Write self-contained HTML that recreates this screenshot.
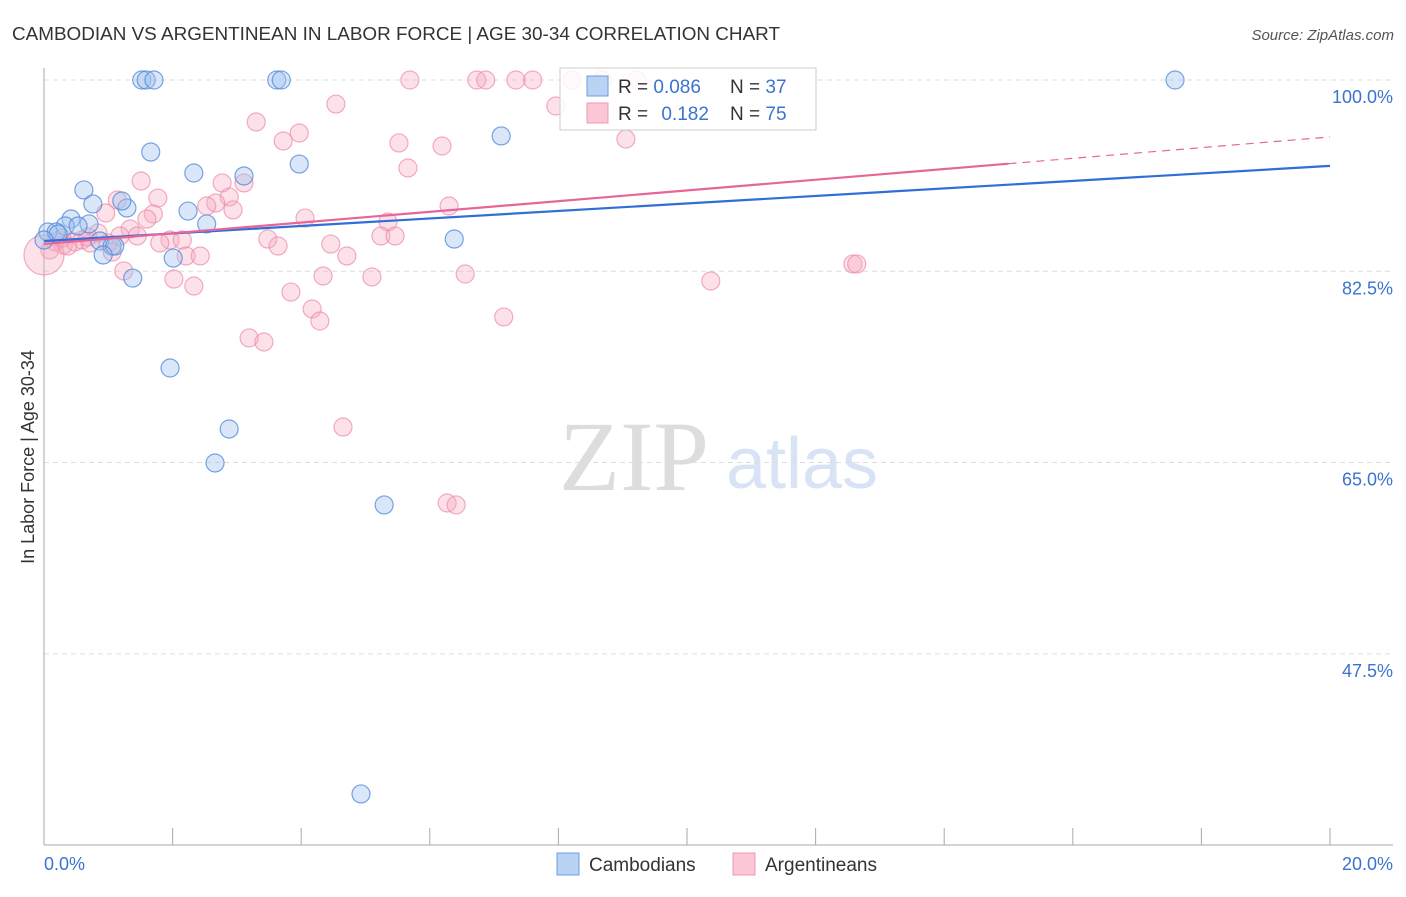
<!DOCTYPE html>
<html><head><meta charset="utf-8"><style>
body{margin:0;background:#fff;font-family:"Liberation Sans",sans-serif;}
svg text{font-family:"Liberation Sans",sans-serif;}
</style></head><body>
<svg id="chart" width="1406" height="892" viewBox="0 0 1406 892" xmlns="http://www.w3.org/2000/svg">
<text x="12" y="40" font-size="18" fill="#333" textLength="768" lengthAdjust="spacingAndGlyphs">CAMBODIAN VS ARGENTINEAN IN LABOR FORCE | AGE 30-34 CORRELATION CHART</text>
<text x="1394" y="40" font-size="15" fill="#555" text-anchor="end" font-style="italic">Source: ZipAtlas.com</text>
<g>
<text x="634" y="490" font-size="100" fill="#ddd" text-anchor="middle" style="font-family:'Liberation Serif',serif">ZIP</text>
<text x="802" y="488" font-size="72" fill="#d8e4f5" text-anchor="middle">atlas</text>
</g>
<g id="grid"></g>
<g id="axes"></g>
<g id="points"></g>
<g id="trends"></g>
<text transform="translate(34,457) rotate(-90)" font-size="18" fill="#333" text-anchor="middle">In Labor Force | Age 30-34</text>
<g>
<rect x="560" y="68" width="256" height="62" fill="#fff" fill-opacity="0.85" stroke="#ccc"/>
<rect x="587" y="76" width="21" height="20" fill="#b9d3f5" stroke="#6a9be0"/>
<rect x="587" y="103" width="21" height="20" fill="#fbc6d5" stroke="#ee98b2"/>
<text x="618" y="93" font-size="19" fill="#333">R = <tspan fill="#3a73d0">0.086</tspan></text>
<text x="730" y="93" font-size="19" fill="#333">N = <tspan fill="#3a73d0">37</tspan></text>
<text x="618" y="120" font-size="19" fill="#333">R = <tspan fill="#3a73d0" dx="8">0.182</tspan></text>
<text x="730" y="120" font-size="19" fill="#333">N = <tspan fill="#3a73d0">75</tspan></text>
</g>
<g>
<rect x="557" y="853" width="22" height="22" fill="#b9d3f5" stroke="#6a9be0"/>
<text x="589" y="871" font-size="19" fill="#333">Cambodians</text>
<rect x="733" y="853" width="22" height="22" fill="#fbc6d5" stroke="#ee98b2"/>
<text x="765" y="871" font-size="19" fill="#333">Argentineans</text>
</g>
</svg>
<script>
const yTicks=[100,82.5,65,47.5];
const yTickLabels=["100.0%","82.5%","65.0%","47.5%"];
const blueX=[1.52,1.59,1.71,3.62,3.69,17.59,7.11,1.66,3.97,2.33,3.11,0.62,0.76,1.29,2.24,0.42,0.33,0.70,2.53,0.06,0.19,0.22,0.87,1.06,1.10,6.38,0.92,2.01,1.38,1.96,2.88,2.66,5.29,4.93,0,1.21,0.53];
const blueY=[100,100,100,100,100,100,94.88,93.41,92.31,91.49,91.22,89.94,88.66,88.29,88.01,87.28,86.64,86.83,86.83,86.09,86.09,85.91,85.27,84.81,84.81,85.45,83.99,83.71,81.88,73.65,68.07,64.96,61.12,34.68,85.36,88.93,86.64];
const pinkX=[5.69,6.73,6.87,7.34,7.60,8.21,8.68,9.22,4.54,7.96,3.30,3.97,3.72,9.05,5.52,6.19,5.66,1.51,3.11,2.77,1.77,2.88,2.67,1.14,2.53,2.94,0.96,1.70,1.60,4.06,6.30,5.35,1.34,0.84,1.45,1.96,2.15,3.48,1.80,3.64,4.46,5.24,5.46,0.17,0.30,0.48,0.59,0.72,1.00,0.09,1.06,2.21,2.43,4.71,2.02,2.33,4.34,5.10,6.55,10.37,12.58,12.64,1.24,3.84,4.17,4.29,7.15,3.19,3.42,4.65,6.27,6.41,0,0.28,0.68,0.37,1.18];
const pinkY=[100,100,100,100,100,100,100,100,97.80,97.62,96.16,95.15,94.42,94.60,94.24,93.96,91.95,90.76,90.58,90.58,89.20,89.30,88.75,89.02,88.47,88.11,87.83,87.74,87.28,87.37,88.47,87.01,86.37,86.00,85.73,85.36,85.36,85.45,85.09,84.81,84.99,85.73,85.73,85.18,84.90,85.18,85.36,85.09,85.09,84.45,84.26,83.90,83.90,83.90,81.79,81.15,82.07,81.98,82.25,81.61,83.17,83.17,82.53,80.60,79.05,77.95,78.32,76.40,76.03,68.25,61.30,61.12,83.99,85.54,85.64,84.81,85.73];
const blueTrend=[85.27,92.14];
const pinkTrend=[85.0,94.79];
const pinkSolidEnd=15;

const NS="http://www.w3.org/2000/svg";
const X0=44,X1=1330,Y100=80,PXPER=10.93;
const sx=v=>X0+(v/20)*(X1-X0);
const sy=v=>Y100+(100-v)*PXPER;
function mk(tag,attrs,parent){const e=document.createElementNS(NS,tag);for(const k in attrs)e.setAttribute(k,attrs[k]);parent.appendChild(e);return e;}
const grid=document.getElementById('grid'),axes=document.getElementById('axes'),pts=document.getElementById('points'),tr=document.getElementById('trends');
yTicks.forEach((t,i)=>{
  const l=mk('line',{x1:X0,x2:1393,y1:sy(t),y2:sy(t),stroke:'#ddd','stroke-dasharray':'5,4'},grid);
  
  
  const tx=mk('text',{x:1393,y:sy(t)+23,'font-size':18,fill:'#3a73d0','text-anchor':'end'},axes);
  tx.textContent=yTickLabels[i];
  
  
});
let a=mk('line',{x1:X0,x2:X0,y1:68,y2:845,stroke:'#aaa'},axes);


a=mk('line',{x1:X0,x2:1393,y1:845,y2:845,stroke:'#aaa'},axes);


for(let i=0;i<=10;i++){
  const x=sx(i*2);
  const t=mk('line',{x1:x,x2:x,y1:828,y2:845,stroke:'#aaa'},axes);
  
  
}
let xl=mk('text',{x:44,y:870,'font-size':18,fill:'#3a73d0'},axes);xl.textContent='0.0%';


xl=mk('text',{x:1393,y:870,'font-size':18,fill:'#3a73d0','text-anchor':'end'},axes);xl.textContent='20.0%';


pinkX.forEach((v,i)=>{
  const c=mk('circle',{cx:sx(v),cy:sy(pinkY[i]),r:(v===0?20:9),fill:'#f7a8c0','fill-opacity':0.35,stroke:'#ec8aa9','stroke-opacity':0.7,'stroke-width':1.2},pts);
  
  
});
blueX.forEach((v,i)=>{
  const c=mk('circle',{cx:sx(v),cy:sy(blueY[i]),r:9,fill:'#9fc2ee','fill-opacity':0.4,stroke:'#4e86d8','stroke-opacity':0.75,'stroke-width':1.2},pts);
  
  
});
let l=mk('line',{x1:sx(0),y1:sy(blueTrend[0]),x2:sx(20),y2:sy(blueTrend[1]),stroke:'#2f6fd6','stroke-width':2.2},tr);


const pm=pinkTrend[0]+(pinkTrend[1]-pinkTrend[0])*pinkSolidEnd/20;
l=mk('line',{x1:sx(0),y1:sy(pinkTrend[0]),x2:sx(pinkSolidEnd),y2:sy(pm),stroke:'#e8659a','stroke-width':2.2},tr);


l=mk('line',{x1:sx(pinkSolidEnd),y1:sy(pm),x2:sx(20),y2:sy(pinkTrend[1]),stroke:'#e8659a','stroke-width':1.2,'stroke-dasharray':'8,6'},tr);


</script>
</body></html>
